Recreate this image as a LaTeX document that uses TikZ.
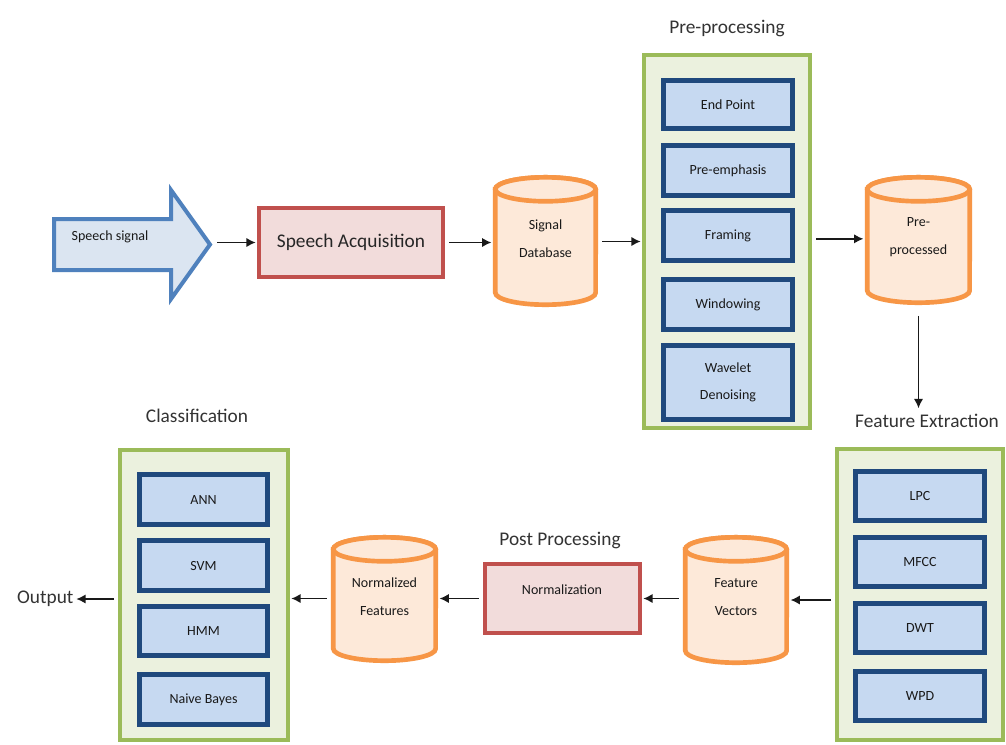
\documentclass[tikz,border=0pt]{standalone}
\usepackage{fontspec}
\setmainfont{Carlito}
\usetikzlibrary{fit,arrows.meta,calc}
\definecolor{grnline}{HTML}{9BBB59}
\definecolor{grnfill}{HTML}{EBF1DE}
\definecolor{dblue}{HTML}{1F497D}
\definecolor{lblue}{HTML}{C6D9F1}
\definecolor{orline}{HTML}{F79646}
\definecolor{orfill}{HTML}{FDE9D9}
\definecolor{redline}{HTML}{C0504D}
\definecolor{redfill}{HTML}{F2DCDB}
\definecolor{arrline}{HTML}{4F81BD}
\definecolor{arrfill}{HTML}{DBE5F1}
\newcommand\Cyl[6]{%
  \pgfmathsetmacro\cylrx{(#4-#2)*0.375-1.75}%
  \draw[cylst] ({#2+2.3},{#3+14.3}) -- ({#2+2.3},{#5-14.3})
     arc[start angle=180,end angle=360,x radius=\cylrx pt,y radius=9pt]
     -- ({#4-2.3},{#3+14.3})
     arc[start angle=0,end angle=180,x radius=\cylrx pt,y radius=9pt] -- cycle;
  \draw[cylst] ({(#2+#4)/2},{#3+14.3}) ellipse[x radius=\cylrx pt,y radius=9pt];
  \node[inner sep=0pt, fit={(#2,#3) (#4,#5)}] (#1) {};
  \node[cyltext] at ([yshift=2pt]#1.center) {#6};
}
\newcommand\IB[6]{%
  \node[ibox, fit={(#2,#3) (#4,#5)}] (#1) {};
  \node[iboxtext] at (#1.center) {#6};
}
\begin{document}
\begin{tikzpicture}[x=0.75pt,y=-0.75pt,
  cont/.style={draw=grnline, fill=grnfill, line width=3pt, inner sep=-1.5pt},
  ibox/.style={draw=dblue, fill=lblue, line width=3.8pt, inner sep=-1.9pt},
  iboxtext/.style={align=center, font=\fontsize{10.5}{20}\selectfont, text=black!90},
  rbox/.style={draw=redline, fill=redfill, line width=3pt, inner sep=-1.5pt},
  cylst/.style={draw=orline, fill=orfill, line width=3.5pt},
  cyltext/.style={align=center, font=\fontsize{10.5}{21}\selectfont, text=black!90},
  title/.style={font=\fontsize{14.5}{17}\selectfont, text=black!80},
  conn/.style={-{Latex[length=7pt,width=7pt]}, line width=1.1pt, black!90,
     shorten <=3pt, shorten >=1pt}]
\useasboundingbox[fill=white] (0,0) rectangle (1006,744);

% speech signal arrow
\draw[draw=arrline, fill=arrfill, line width=3pt, line join=miter]
  (54,219) -- (171,219) -- (171,190) -- (210,244.5) -- (171,299) -- (171,270) -- (54,270) -- cycle;
\node[inner sep=0pt, fit={(52,187) (213,303)}] (sigarr) {};
\node[font=\fontsize{10.5}{12}\selectfont, text=black!90] (sigtext) at (110,237) {Speech signal};

% speech acquisition
\node[rbox, fit={(257,206) (445,279)}] (acq) {};
\node[font=\fontsize{14.5}{17}\selectfont, text=black!85] (acqtext) at (acq.center) {Speech Acquisition};

% signal database
\Cyl{sigdb}{493}{175}{598}{307}{Signal\\Database}

% pre-processing
\node[title] (pretitle) at (727,29) {Pre-processing};
\node[cont, fit={(642,53) (812,430)}] (pre) {};
\IB{ep}{661}{78}{795}{131}{End Point}
\IB{pe}{661}{143}{795}{198}{Pre-emphasis}
\IB{fr}{661}{208}{795}{263}{Framing}
\IB{wi}{661}{277}{795}{332}{Windowing}
\IB{wd}{661}{343}{795}{422}{Wavelet\\Denoising}

% pre-processed
\Cyl{ppd}{865}{175}{972}{305}{Pre-\\processed}

% feature extraction
\node[title] (fetitle) at (927,421) {Feature Extraction};
\node[cont, fit={(835,447) (1005,742)}] (fe) {};
\IB{lpc}{853}{469}{987}{523}{LPC}
\IB{mfcc}{853}{535}{987}{589}{MFCC}
\IB{dwt}{853}{601}{987}{655}{DWT}
\IB{wpd}{853}{669}{987}{723}{WPD}

% feature vectors
\Cyl{fv}{683}{535}{789}{665}{Feature\\Vectors}

% post processing
\node[title] (pptitle) at (560,540) {Post Processing};
\node[rbox, fit={(483,562) (642,635)}] (norm) {};
\node[font=\fontsize{10.5}{12}\selectfont, text=black!90] (normtext) at (562,590) {Normalization};

% normalized features
\Cyl{nf}{331}{535}{438}{663}{Normalized\\Features}

% classification
\node[title] (clstitle) at (197,416) {Classification};
\node[cont, fit={(118,448) (290,742)}] (cls) {};
\IB{ann}{137}{472}{270}{527}{ANN}
\IB{svm}{137}{538}{270}{593}{SVM}
\IB{hmm}{137}{604}{270}{658}{HMM}
\IB{nb}{137}{672}{270}{727}{Naive Bayes}

\node[title, anchor=east, inner sep=1pt] (out) at (75,599) {Output};

% connectors
\draw[conn] (sigarr.east |- acq.west) -- (acq.west);
\draw[conn] (acq.east) -- (acq.east -| sigdb.west);
\draw[conn] (sigdb.east |- pre.west) -- (pre.west);
\draw[conn] ([yshift=2pt]pre.east) -- ([yshift=2pt]pre.east -| ppd.west);
\draw[conn, shorten <=8pt] (ppd.south) -- (ppd.south |- fetitle.north);
\draw[conn] (fe.west |- fv.east) -- (fv.east);
\draw[conn] (fv.west |- norm.east) -- (norm.east);
\draw[conn] (norm.west) -- (norm.west -| nf.east);
\draw[conn] (nf.west |- norm.west) -- (cls.east |- norm.west);
\draw[conn] (cls.west |- out.east) -- (out.east);
\end{tikzpicture}
\end{document}
